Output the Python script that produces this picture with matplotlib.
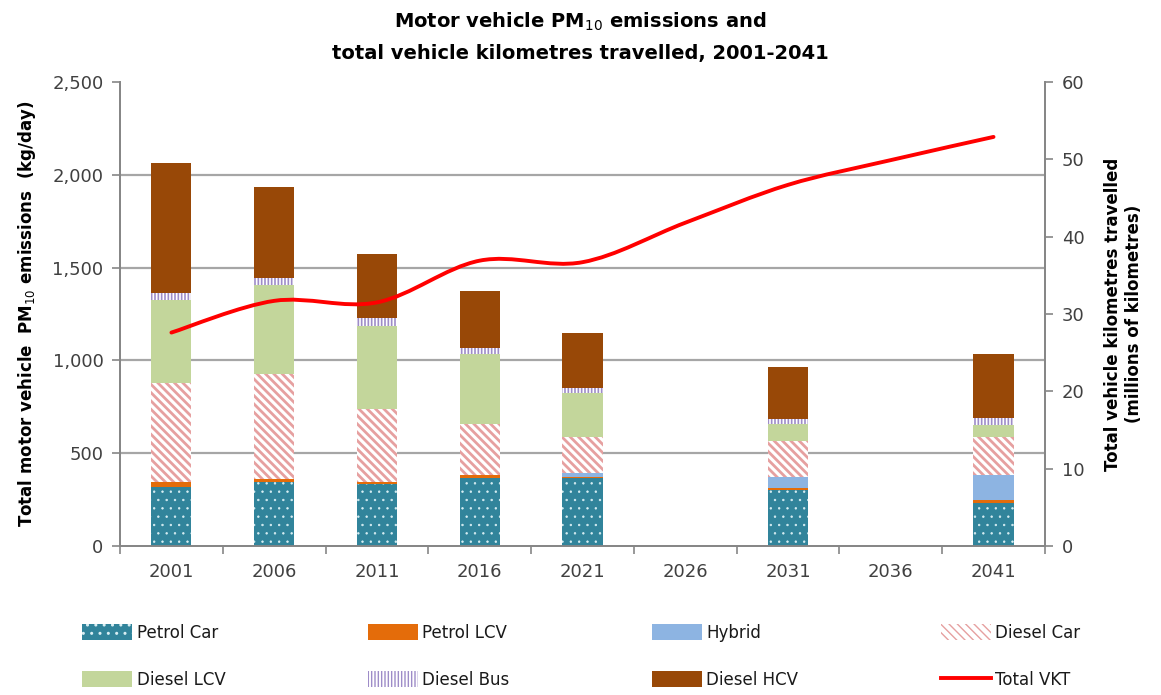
import numpy as np
import matplotlib
matplotlib.use('Agg')
import matplotlib.pyplot as plt
from matplotlib.path import Path
from matplotlib.patches import PathPatch, Patch
from matplotlib.lines import Line2D

# ---------------- data ----------------
years = ['2001', '2006', '2011', '2016', '2021', '2026', '2031', '2036', '2041']

petrol_car = [318, 345, 334, 366, 366, 0, 302, 0, 232]
petrol_lcv = [27, 16, 11, 17, 6, 0, 11, 0, 16]
hybrid     = [0, 0, 0, 0, 21, 0, 59, 0, 135]
diesel_car = [533, 566, 393, 274, 195, 0, 194, 0, 202]
diesel_lcv = [447, 479, 447, 377, 236, 0, 91, 0, 67]
diesel_bus = [38, 38, 43, 32, 27, 0, 27, 0, 37]
diesel_hcv = [701, 490, 345, 308, 296, 0, 281, 0, 345]

vkt = [27.6, 31.7, 31.5, 36.9, 36.7, 41.8, 46.7, 49.9, 52.9]

# ---------------- style ----------------
plt.rcParams['font.family'] = 'DejaVu Sans'

GRID = '#A6A6A6'
AXC = '#868686'

fig = plt.figure(figsize=(11.61, 6.95), dpi=100)
ax = fig.add_axes([0.1034, 0.2144, 0.7966, 0.6676])
ax2 = ax.twinx()

x = np.arange(len(years))
w = 0.39

# (name, values, style, hatch line width)
series = [
    ('Petrol Car', petrol_car, dict(facecolor='#31849B', edgecolor='#D8EEF3', hatch='..'), 0.5),
    ('Petrol LCV', petrol_lcv, dict(facecolor='#E46C0A', edgecolor='#E46C0A'), 1.0),
    ('Hybrid', hybrid, dict(facecolor='#8DB4E2', edgecolor='#8DB4E2'), 1.0),
    ('Diesel Car', diesel_car, dict(facecolor='white', edgecolor='#E6A0A0', hatch='\\\\\\\\'), 2.0),
    ('Diesel LCV', diesel_lcv, dict(facecolor='#C3D69B', edgecolor='#C3D69B'), 1.0),
    ('Diesel Bus', diesel_bus, dict(facecolor='white', edgecolor='#9E8CC8', hatch='|||||'), 1.2),
    ('Diesel HCV', diesel_hcv, dict(facecolor='#984807', edgecolor='#984807'), 1.0),
]

handles = {}
bottom = np.zeros(len(years))
for name, vals, st, hlw in series:
    vals = np.array(vals, dtype=float)
    with plt.rc_context({'hatch.linewidth': hlw}):
        ax.bar(x, vals, w, bottom=bottom, linewidth=0, zorder=3, **st)
        handles[name] = Patch(linewidth=0, **st)
    bottom += vals

# gridlines (no line at the top)
for v in [500, 1000, 1500, 2000]:
    ax.axhline(v, color=GRID, lw=1.6, zorder=1)

ax.set_xlim(-0.5, len(years) - 0.5)
ax.set_ylim(0, 2500)
ax.set_yticks([0, 500, 1000, 1500, 2000, 2500])
ax.set_yticklabels(['0', '500', '1,000', '1,500', '2,000', '2,500'])
ax.set_xticks(x)
ax.set_xticklabels(years)
ax.set_xticks(np.arange(len(years) + 1) - 0.5, minor=True)
ax.tick_params(axis='x', which='major', length=0, pad=12, labelsize=13, colors='#404040')
ax.tick_params(axis='x', which='minor', length=6, width=1.2, color=AXC, direction='out')
ax.tick_params(axis='y', length=6, width=1.2, color=AXC, labelsize=13, labelcolor='#404040', pad=6)

ax2.set_ylim(0, 60)
ax2.set_yticks(range(0, 61, 10))
ax2.tick_params(axis='y', length=6, width=1.2, color=AXC, labelsize=13, labelcolor='#404040', pad=6)

for a in (ax, ax2):
    a.spines['top'].set_visible(False)
    for s in ('left', 'right', 'bottom'):
        a.spines[s].set_color(AXC)
        a.spines[s].set_linewidth(1.3)

# smoothed VKT line (Bezier through the data points)
pts = np.column_stack([x, vkt]).astype(float)
verts = [tuple(pts[0])]
codes = [Path.MOVETO]
n = len(pts)
for i in range(n - 1):
    p0 = pts[max(i - 1, 0)]
    p1 = pts[i]
    p2 = pts[i + 1]
    p3 = pts[min(i + 2, n - 1)]
    c1 = p1 + (p2 - p0) / 6.0
    c2 = p2 - (p3 - p1) / 6.0
    verts += [tuple(c1), tuple(c2), tuple(p2)]
    codes += [Path.CURVE4] * 3
ax2.add_patch(PathPatch(Path(verts, codes), facecolor='none', edgecolor='#FF0000',
                        lw=2.8, zorder=5, capstyle='round'))
handles['Total VKT'] = Line2D([], [], color='#FF0000', lw=2.8)

ax.set_ylabel(r'Total motor vehicle  PM$_{10}$ emissions  (kg/day)',
              fontsize=12, fontweight='bold', labelpad=10)
ax2.set_ylabel('Total vehicle kilometres travelled\n(millions of kilometres)',
               fontsize=12, fontweight='bold', labelpad=14)

fig.text(0.5, 0.985, r'Motor vehicle PM$_{10}$ emissions and', ha='center', va='top',
         fontsize=14, fontweight='bold')
fig.text(0.5, 0.936, 'total vehicle kilometres travelled, 2001-2041', ha='center', va='top',
         fontsize=14, fontweight='bold')

# legend: row-major order in the reference, matplotlib fills column-major
order = ['Petrol Car', 'Diesel LCV', 'Petrol LCV', 'Diesel Bus',
         'Hybrid', 'Diesel HCV', 'Diesel Car', 'Total VKT']
leg = fig.legend([handles[k] for k in order], order, ncol=4, loc='lower left',
                 bbox_to_anchor=(0.058, -0.013, 0.885, 0.13), mode='expand',
                 frameon=False, fontsize=12, handlelength=3.0, handleheight=1.1,
                 handletextpad=0.25, labelspacing=1.75)
for t in leg.get_texts():
    t.set_color('#1A1A1A')

fig.savefig('out.png', dpi=100)
